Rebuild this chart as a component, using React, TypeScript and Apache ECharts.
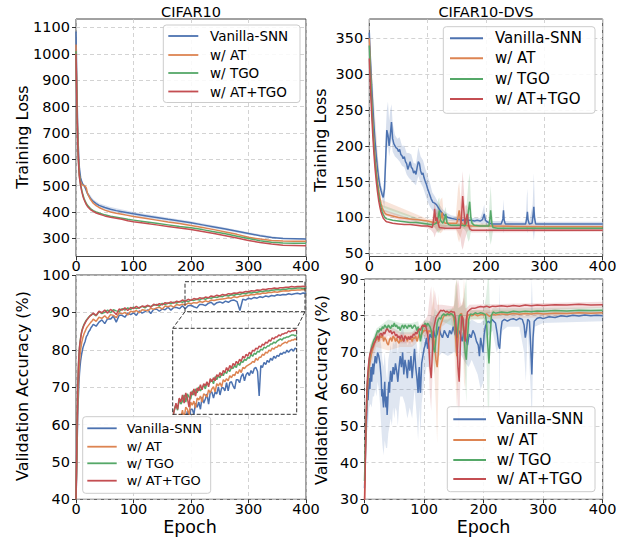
import React, { useEffect, useRef } from "react";
import * as echarts from "echarts";

const COLORS = ["#4C72B0", "#DD8452", "#55A868", "#C44E52"];
const NAMES = ["Vanilla-SNN", "w/ AT", "w/ TGO", "w/ AT+TGO"];
const TITLES = ["CIFAR10", "CIFAR10-DVS"];
const LOSS_TICKS = [300, 400, 500, 600, 700, 800, 900, 1000, 1100];
const DVS_LOSS_TICKS = [50, 100, 150, 200, 250, 300, 350];

// CIFAR10 training loss
const lossEpochs = [0, 1, 2, 3, 4, 5, 6, 8, 10, 12, 14, 16, 18, 20, 25, 30, 35, 40, 50, 60, 70, 80, 90, 100, 120, 140, 160, 180, 200, 220, 240, 260, 280, 300, 320, 340, 360, 380, 400];
const lossVanilla = [1085, 950, 820, 720, 650, 600, 565, 530, 515, 505, 500, 492, 480, 470, 452, 440, 432, 425, 417, 410, 405, 401, 397, 393, 386, 379, 372, 366, 359, 351, 343, 335, 327, 318, 310, 303, 299, 298, 297];
const lossAT = [1035, 900, 780, 690, 620, 570, 540, 515, 505, 502, 500, 498, 490, 470, 448, 433, 424, 417, 407, 400, 395, 391, 387, 383, 376, 369, 362, 356, 349, 341, 333, 324, 315, 304, 297, 292, 290, 289, 289];
const lossTGO = [1010, 880, 760, 670, 610, 567, 537, 505, 483, 465, 451, 441, 432, 425, 413, 405, 400, 396, 389, 384, 380, 376, 372, 369, 363, 357, 351, 345, 340, 333, 325, 317, 308, 299, 291, 285, 282, 281, 281];
const lossATTGO = [1000, 870, 750, 660, 600, 560, 530, 500, 478, 460, 447, 437, 428, 421, 409, 402, 396, 392, 385, 380, 376, 372, 367, 363, 357, 351, 345, 339, 333, 326, 318, 310, 301, 292, 284, 278, 274, 273, 272];
// shaded spread [epoch, low, high]
const lossVanillaBand = [[14,494,506],[20,462,478],[30,432,448],[40,417,433],[60,401,419],[80,393,409],[100,386,400],[150,368,382],[200,353,365],[250,333,345],[300,313,323],[350,299,305],[400,295,299]];

// CIFAR10-DVS training loss [epoch, loss]
const dvsLossVanilla = [[0,358],[2,320],[4,285],[6,255],[8,228],[10,205],[12,185],[14,168],[16,155],[18,145],[20,138],[22,132],[24,128],[26,140],[28,180],[30,222],[32,215],[34,200],[36,215],[38,233],[40,210],[42,203],[44,200],[46,197],[48,196],[50,192],[52,195],[54,188],[56,186],[58,182],[60,185],[62,178],[64,175],[66,167],[68,172],[70,178],[72,170],[74,168],[76,162],[78,165],[80,160],[82,170],[84,178],[86,175],[88,165],[90,160],[92,162],[94,155],[96,150],[98,146],[100,140],[103,133],[106,126],[109,121],[112,120],[115,118],[118,114],[121,110],[124,107],[127,104],[130,102],[135,100],[140,99],[145,98],[150,97],[155,97],[160,96],[165,97],[170,96],[175,96],[180,95],[185,96],[190,95],[194,97],[197,105],[199,96],[202,94],[206,92],[210,91],[215,91],[220,91],[226,91],[229,98],[230,110],[231,97],[233,91],[240,91],[250,91],[260,91],[268,91],[270,100],[271,108],[272,97],[274,91],[279,92],[281,106],[282,115],[283,100],[285,91],[300,91],[320,91],[340,91],[360,91],[380,91],[400,91]];
const dvsLossAT = [[0,350],[2,305],[4,265],[6,232],[8,205],[10,183],[12,165],[14,150],[16,138],[18,128],[20,120],[22,114],[24,110],[26,107],[28,105],[30,104],[35,103],[40,102],[50,100],[60,99],[70,98],[80,97],[90,96],[100,95],[105,94],[110,93],[115,93],[118,92],[120,93],[123,100],[125,107],[127,95],[130,92],[140,92],[150,92],[152,100],[154,110],[156,98],[158,92],[162,90],[166,89],[170,88],[180,88],[200,88],[250,87.5],[300,87],[400,87]];
const dvsLossTGO = [[0,340],[2,298],[4,260],[6,228],[8,200],[10,178],[12,160],[14,145],[16,132],[18,122],[20,114],[22,108],[24,104],[26,101],[28,99],[30,98],[35,97],[40,96],[50,95],[60,94],[70,93],[80,93],[90,92],[100,91],[105,90],[110,90],[115,92],[118,100],[120,110],[122,96],[126,92],[129,98],[131,105],[133,93],[136,90],[140,89],[150,89],[160,89],[164,88],[168,95],[170,110],[172,122],[174,100],[176,92],[180,89],[190,88],[200,88],[205,88],[207,100],[208,110],[210,92],[212,86],[220,85],[300,85],[400,85]];
const dvsLossATTGO = [[0,322],[2,280],[4,245],[6,214],[8,188],[10,167],[12,150],[14,136],[16,124],[18,115],[20,108],[22,103],[24,99],[26,97],[28,95],[30,94],[35,93],[40,92],[50,91],[60,90],[70,90],[80,89],[90,88],[100,88],[105,87],[108,86],[110,95],[112,112],[114,95],[116,100],[118,92],[120,86],[130,85],[140,85],[150,85],[156,85],[158,100],[160,130],[162,110],[164,90],[166,98],[168,105],[170,90],[172,84],[176,82],[200,82],[300,82],[400,82]];
const dvsLossVanillaBand = [[0,352,362],[10,198,212],[20,132,145],[22,126,140],[24,120,136],[26,115,160],[28,150,215],[30,195,250],[32,200,262],[34,185,235],[36,195,250],[38,210,258],[40,192,232],[44,185,215],[48,182,210],[52,178,212],[56,172,200],[60,170,200],[64,160,190],[68,155,190],[72,152,188],[76,148,176],[80,145,175],[84,158,198],[88,148,185],[92,142,180],[96,132,168],[100,122,158],[104,115,148],[108,110,135],[112,106,130],[116,104,124],[120,100,118],[125,98,112],[130,96,108],[140,95,103],[160,93,100],[190,92,99],[194,90,108],[197,92,118],[199,90,100],[205,89,95],[228,88,95],[230,78,125],[232,88,95],[268,88,94],[270,82,130],[271,78,140],[272,86,105],[274,88,94],[280,82,118],[282,68,162],[284,84,108],[286,88,94],[400,88,94]];
const dvsLossATBand = [[0,345,355],[20,115,125],[100,92,98],[110,88,98],[118,80,110],[122,78,125],[125,80,128],[128,86,100],[135,88,96],[148,86,98],[152,70,140],[154,65,150],[156,72,130],[160,84,98],[170,85,92],[400,85,89]];
const dvsLossTGOBand = [[0,335,345],[20,110,118],[100,88,94],[112,86,96],[116,80,112],[118,78,125],[120,80,128],[122,82,110],[126,86,98],[129,82,110],[131,85,115],[133,86,100],[136,86,93],[160,86,92],[166,80,110],[168,72,130],[170,66,150],[172,70,162],[174,80,125],[176,86,98],[180,86,91],[204,86,91],[206,72,120],[208,62,145],[210,70,115],[212,82,90],[220,83,87],[400,83,87]];
const dvsLossATTGOBand = [[0,315,328],[20,104,112],[100,85,91],[106,82,90],[110,78,108],[112,72,125],[114,78,110],[116,80,112],[118,82,100],[122,82,90],[150,82,88],[156,72,110],[158,60,140],[160,55,165],[162,62,140],[164,70,115],[166,75,118],[168,80,115],[170,82,98],[175,79,85],[400,80,84]];

// CIFAR10 validation accuracy
const accEpochs = [0, 1, 2, 3, 4, 5, 6, 7, 8, 9, 10, 12, 14, 16, 18, 20, 22, 24, 26, 28, 30, 35, 40, 45, 50, 55, 60, 65, 70, 75, 80, 85, 90, 95, 100, 105, 110, 115, 120, 125, 130, 135, 140, 145, 150, 155, 160, 165, 170, 175, 180, 185, 190, 195, 200, 205, 210, 215, 220, 225, 230, 235, 240, 245, 250, 255, 260, 265, 270, 275, 280, 285, 290, 295, 300, 305, 310, 315, 320, 325, 330, 335, 340, 345, 350, 355, 360, 365, 370, 375, 380, 385, 390, 395, 400];
const accVanilla = [40, 46, 55, 62, 67, 71, 73.5, 75.5, 77, 78, 79, 80.5, 81.5, 82.3, 83.5, 84, 84.8, 85.2, 85.9, 86.3,
  86.8, 86.3, 87.4, 88.0, 87.0, 88.3, 88.2, 89.0, 87.4, 89.2, 89.2, 88.7, 89.8, 89.4, 89.9, 89.2, 90.4, 89.8, 90.2, 90.7, 89.7, 90.8, 90.9, 90.3, 90.9, 90.7, 91.4, 90.6, 91.3, 91.3, 91.0, 91.8, 91.0, 91.8, 91.9, 91.5, 91.2, 92.1, 92.1, 91.8, 92.4, 92.7, 92.0, 92.6, 92.8, 92.5, 93.0, 92.7, 93.2, 93.3, 92.9, 90.5, 93.5, 93.3, 93.8, 93.6, 94.0, 93.8, 94.2, 94.0, 94.4, 94.2, 94.5, 94.4, 94.7, 94.6, 94.8, 94.7, 95.0, 94.8, 95.0, 95.1, 94.9, 95.2, 95.1];
const accAT = [40, 47, 57, 65, 70, 74, 76.5, 78.5, 80, 81, 82, 83.3, 84.3, 85, 85.7, 86.2, 86.6, 87, 87.4, 87.7,
  88.2, 87.6, 88.7, 88.4, 89.1, 88.3, 89.4, 89.2, 88.6, 89.9, 89.6, 90.0, 89.3, 90.3, 90.1, 90.5, 89.9, 90.7, 90.6, 90.4, 91.1, 90.8, 91.2, 91.4, 90.9, 91.7, 91.5, 91.8, 91.4, 92.1, 91.9, 92.2, 92.0, 92.5, 92.3, 92.6, 92.5, 92.9, 92.7, 93.1, 92.8, 93.3, 93.2, 93.4, 93.5, 93.6, 93.7, 93.9, 93.8, 94.2, 94.0, 94.3, 94.3, 94.6, 94.5, 94.8, 94.7, 95.0, 94.9, 95.2, 95.1, 95.3, 95.3, 95.5, 95.4, 95.6, 95.7, 95.8, 95.7, 95.9, 95.9, 96.0, 96.0, 96.1, 96.0];
const accTGO = [40, 49, 61, 69, 74.5, 78, 80.5, 82, 83.2, 84.2, 85, 86, 86.8, 87.4, 87.9, 88.3, 88.7, 89, 89.3, 89.5,
  89.6, 89.1, 90.2, 89.7, 90.0, 90.6, 89.9, 90.7, 90.4, 90.2, 91.0, 90.6, 91.2, 90.8, 91.4, 91.0, 91.3, 91.6, 91.2, 91.8, 91.6, 91.9, 92.1, 91.7, 92.4, 92.1, 92.5, 92.3, 92.7, 92.5, 92.9, 92.7, 93.1, 92.9, 93.3, 93.2, 93.5, 93.3, 93.8, 93.5, 93.9, 93.8, 94.1, 94.0, 94.3, 94.2, 94.6, 94.4, 94.7, 94.6, 94.9, 94.8, 95.1, 95.0, 95.3, 95.2, 95.4, 95.4, 95.6, 95.6, 95.8, 95.7, 95.9, 96.0, 96.1, 96.0, 96.2, 96.2, 96.3, 96.3, 96.4, 96.5, 96.5, 96.4, 96.5];
const accATTGO = [40, 50, 62, 70, 75, 78.5, 80.5, 82, 83, 84, 84.8, 85.8, 86.6, 87.2, 87.8, 88.2, 88.6, 89, 89.2, 89.5,
  89.8, 89.2, 90.3, 89.9, 90.6, 89.8, 90.8, 90.3, 89.4, 90.9, 90.6, 91.2, 90.5, 91.3, 91.0, 91.6, 91.1, 91.7, 91.5, 91.9, 91.4, 92.2, 91.9, 92.3, 92.0, 92.6, 92.4, 92.8, 92.5, 93.0, 92.8, 93.3, 93.0, 93.5, 93.2, 93.7, 93.5, 93.9, 93.7, 94.1, 93.9, 94.4, 94.2, 94.6, 94.4, 94.8, 94.6, 95.0, 94.9, 95.2, 95.1, 95.4, 95.3, 95.6, 95.5, 95.8, 95.7, 96.0, 95.9, 96.2, 96.1, 96.3, 96.3, 96.5, 96.4, 96.6, 96.6, 96.7, 96.7, 96.9, 96.8, 96.9, 96.9, 97.0, 96.9];

// CIFAR10-DVS validation accuracy [epoch, acc]
const dvsAccVanilla = [[0,33],[1,38],[2,45],[3,50],[4,54],[5,58],[6,57],[7,61],[8,63],[9,60],[10,64],[11,66],[12,62],[13,65],[14,67],[15,64],[16,66],[18,69],[20,67],[22,70],[24,69],[26,67],[28,63],[29,58],[30,60],[31,57],[32,55],[33,59],[34,62],[35,57],[36,55],[37,58],[38,53],[39,56],[40,60],[41,62],[42,59],[43,63],[44,65],[46,62],[48,66],[50,64],[52,67],[54,65],[56,62],[58,66],[60,69],[62,66],[64,70],[66,64],[68,68],[70,66],[72,63],[74,68],[76,65],[78,69],[80,63],[82,67],[84,71],[86,66],[88,63],[90,59],[91,64],[92,66],[93,60],[94,59],[95,63],[96,67],[98,69],[100,71],[102,72],[104,74],[106,71],[108,73],[110,75],[113,74],[116,76],[119,74],[122,75],[125,77],[128,75],[131,74],[134,76],[137,75],[140,74],[143,76],[146,75],[149,77],[152,75],[155,74],[158,76],[161,75],[164,73],[167,76],[170,74],[173,72],[176,75],[179,74],[182,76],[185,75],[188,73],[191,72],[193,69],[195,74],[197,72],[199,70],[201,75],[203,77],[205,78],[208,78.5],[211,78],[214,79],[217,78.5],[220,78],[223,75],[225,72],[227,71],[229,76],[231,78.5],[235,79],[240,78.5],[245,79],[250,79.2],[255,78.8],[260,79.3],[265,79],[268,77.5],[270,74],[272,76],[274,79],[277,78.5],[279,72],[281,64],[283,74],[285,78.5],[290,79.3],[295,79.5],[300,79.2],[310,79.7],[320,79.5],[330,80],[340,79.8],[350,80.1],[360,79.9],[370,80.2],[380,80],[390,80.1],[400,80]];
const dvsAccAT = [[0,30],[1,38],[2,46],[3,52],[4,57],[5,60],[6,62],[7,64],[8,66],[9,67],[10,68],[12,70],[14,71],[16,72],[18,73],[20,73.5],[22,74],[24,73],[26,74.5],[28,74],[30,75],[32,73],[34,74],[36,73.5],[38,72.5],[40,72],[42,73.5],[44,74],[46,73],[48,74.5],[50,74],[52,73],[54,74],[56,73],[58,72.5],[60,73.5],[62,73],[64,74],[66,73],[68,74.5],[70,74],[72,73],[74,74.3],[76,73.5],[78,74],[80,73],[82,74],[84,73.8],[86,74.5],[88,73],[90,74],[92,75],[94,74],[96,75],[98,75.5],[100,76],[102,76],[104,76],[106,75],[108,76],[110,75.6],[112,76],[114,75],[116,74],[118,72],[120,68],[122,66],[124,70],[126,76],[128,77.5],[130,78.5],[132,79.5],[134,80],[136,80.3],[138,80],[140,80.6],[143,80.3],[146,80.6],[149,80],[151,78],[153,74],[155,69],[157,73],[159,79],[161,80.5],[163,80.6],[165,79],[167,75],[169,73],[171,77],[173,80],[176,80.3],[180,80],[185,80.4],[190,80],[195,80.3],[200,80.2],[205,80.5],[210,79.8],[215,80.4],[220,80.2],[230,80.5],[240,80.3],[250,80.6],[260,80.4],[270,80.6],[280,80.5],[290,80.7],[300,80.5],[320,80.7],[340,80.6],[360,80.8],[380,80.7],[400,80.8]];
const dvsAccTGO = [[0,35],[1,42],[2,48],[3,54],[4,59],[5,62],[6,64],[7,66],[8,68],[9,69],[10,70],[12,71.5],[14,72.5],[16,73.5],[18,74],[20,75],[22,76],[24,75.5],[26,76.5],[28,76],[30,77],[32,76.5],[34,77.5],[36,77],[38,76.5],[40,77.5],[42,77],[44,76.5],[46,77.5],[48,77],[50,78],[52,77],[54,77.5],[56,76.5],[58,77],[60,76],[62,77],[64,77.5],[66,76.5],[68,77.5],[70,77],[72,76.5],[74,77.5],[76,77],[78,77.5],[80,76.5],[82,77],[84,77.5],[86,77],[88,76],[90,77],[92,75.5],[94,73],[96,75],[98,77],[100,77.5],[102,78],[104,77],[106,78],[108,77.5],[110,77],[112,76],[114,74],[116,71],[118,70],[120,74],[122,78],[124,79],[126,79.5],[128,79],[130,80],[133,80.5],[136,80],[139,80.5],[142,80.2],[145,80.6],[148,80.3],[151,79.5],[153,76],[155,74],[157,77],[159,80],[162,80.3],[165,79],[167,75],[169,70],[171,68],[173,74],[175,79],[178,80.5],[182,80.3],[186,80.8],[190,80.5],[195,80.8],[200,80.6],[203,80.3],[205,78],[207,72],[209,67],[211,74],[213,80],[216,81],[220,80.7],[230,81],[240,80.8],[250,81.2],[260,81],[270,81.2],[280,81.1],[290,81.3],[300,81.2],[320,81.4],[340,81.3],[360,81.5],[380,81.4],[400,81.5]];
const dvsAccATTGO = [[0,28],[1,36],[2,46],[3,54],[4,60],[5,63],[6,65],[7,67],[8,68.5],[9,69.5],[10,70],[12,71],[14,71.5],[16,72.5],[18,73],[20,74],[22,74.5],[24,73.5],[26,75],[28,75.2],[30,74.5],[32,75.5],[34,75],[36,76],[38,76.5],[40,76],[42,75.5],[44,76],[46,75],[48,75.5],[50,75.6],[52,74.5],[54,75],[56,74],[58,74.5],[60,73.5],[62,74.7],[64,74],[66,73],[68,74.5],[70,74],[72,73.5],[74,74.3],[76,73.5],[78,74.5],[80,74],[82,75],[84,74.7],[86,75.5],[88,75],[90,76],[92,76.5],[94,76],[96,77],[98,77.5],[100,77],[102,77.5],[104,76.5],[106,75],[108,72],[110,66],[112,63],[114,70],[116,76.5],[118,78],[120,79.5],[122,80],[124,80.5],[126,81],[128,81.5],[130,81.3],[133,81.5],[136,81],[139,81.2],[142,80.8],[145,81.2],[148,81],[151,81],[153,79],[155,74],[157,66],[159,62],[161,72],[163,80],[165,79.5],[167,76],[169,73],[171,79],[173,81],[176,81.5],[180,82],[185,82],[190,82.3],[195,82.5],[200,82.4],[205,82.6],[210,82.3],[215,82.6],[220,82.5],[230,82.7],[240,82.5],[250,82.8],[260,82.6],[270,82.9],[280,82.7],[290,82.9],[300,82.8],[320,83],[340,82.9],[360,83.1],[380,82.9],[400,83]];
const dvsAccVanillaBand = [[0,30,36],[2,40,50],[4,48,58],[6,50,62],[8,55,68],[10,56,70],[12,55,70],[14,58,72],[16,58,73],[18,60,75],[20,58,74],[22,62,76],[24,60,76],[26,56,74],[28,50,72],[30,45,68],[32,42,66],[34,46,70],[36,44,65],[38,44,62],[40,48,68],[42,50,70],[44,52,72],[46,50,70],[48,55,73],[50,52,72],[52,55,74],[54,54,73],[56,50,70],[58,55,73],[60,58,75],[64,58,77],[68,56,74],[72,52,72],[76,55,73],[80,52,72],[84,60,76],[88,52,72],[90,46,68],[92,55,72],[94,48,68],[96,56,74],[100,62,76],[104,66,78],[108,66,78],[112,68,80],[116,70,80],[120,68,79],[130,70,79],[140,69,79],[150,70,80],[160,70,80],[170,67,79],[175,66,78],[180,68,79],[190,64,78],[195,60,78],[200,62,79],[205,74,81],[215,76,81],[222,70,80],[226,72,80],[227,55,89],[228,74,80],[232,76,81],[240,77,81],[260,77,81],[268,70,80],[271,62,80],[274,76,81],[279,60,80],[281,50,90],[283,68,80],[286,77,81],[300,78,81],[400,78.5,81.5]];
const dvsAccATBand = [[0,28,33],[5,57,63],[10,66,70],[20,71.5,75.5],[40,70.5,74],[60,71.5,75],[80,71.5,75],[100,74.5,77.5],[110,73.5,78],[114,71,84],[116,68,88],[118,62,80],[120,55,76],[122,45,78],[124,60,86],[126,72,80],[130,77,80.5],[145,79,81.5],[150,75,83],[152,66,88],[155,55,90],[157,64,85],[160,78,82],[165,74,84],[167,62,90],[169,60,86],[171,72,81],[175,79,81.5],[400,80,81.5]];
const dvsAccTGOBand = [[0,32,37],[5,59,65],[10,68,72],[20,73.5,76.5],[40,76,79],[60,75,78],[80,75,78],[90,75.5,78.5],[94,70,76],[100,76,79],[110,75.5,78.5],[114,70,78],[118,64,82],[122,74,81],[130,78.5,81.5],[150,77,82],[153,70,88],[155,68,90],[157,73,82],[165,75,83],[169,63,88],[171,56,90],[173,70,80],[178,79,81.5],[200,79,81.5],[204,72,85],[207,55,90],[209,52,90],[211,70,80],[215,80,82],[400,80.7,82.3]];
const dvsAccATTGOBand = [[0,26,30],[5,60,66],[10,68,72],[20,72.5,75.5],[40,74.5,77.5],[60,72.5,75.5],[80,72.5,75.5],[100,75.5,78.5],[106,72,80],[108,65,83],[110,58,86],[112,54,88],[114,63,82],[118,74,87],[122,78,83],[130,80,83],[150,79.5,82.5],[153,73,85],[155,62,88],[157,52,90],[159,48,88],[161,63,84],[163,78,82.5],[167,70,85],[169,66,82],[171,76,82],[176,80.5,83],[400,82.2,83.8]];

const FONT = "DejaVu Sans";

function zip(xs: number[], ys: number[]) {
  return xs.map((x, i) => [x, ys[i]]);
}

function xAxisCfg(gridIndex: number) {
  return {
    type: "value", gridIndex, min: 0, max: 400, interval: 100,
    axisLine: { show: false },
    axisTick: { show: true, length: 4, lineStyle: { color: "#333", width: 1 } },
    axisLabel: { fontSize: 14.5, color: "#000", margin: 2, fontFamily: FONT, formatter: (v: number) => String(v) },
    splitLine: { show: true, lineStyle: { color: "#c8c8c8", type: [4, 3], width: 0.8 } },
  };
}

function yAxisCfg(gridIndex: number, min: number, max: number, ticks: number[] | null, interval?: number) {
  const base: any = {
    type: "value", gridIndex, min, max,
    axisLine: { show: false },
    axisTick: { show: true, length: 4, lineStyle: { color: "#333", width: 1 } },
    axisLabel: { fontSize: 14.5, color: "#000", margin: 6, fontFamily: FONT, formatter: (v: number) => String(v) },
    splitLine: { show: true, lineStyle: { color: "#c8c8c8", type: [4, 3], width: 0.8 } },
  };
  if (ticks) {
    base.axisTick.customValues = ticks;
    base.axisLabel.customValues = ticks;
  } else if (interval) {
    base.interval = interval;
  }
  return base;
}

function legendGraphics(x: number, y: number, w: number, h: number, lx0: number, lx1: number, tx: number, rows: number[], fs: number, lw: number) {
  const els: any[] = [
    { type: "rect", z: 20, shape: { x, y, width: w, height: h, r: 3 }, style: { fill: "rgba(255,255,255,0.85)", stroke: "#cccccc", lineWidth: 1 } },
  ];
  NAMES.forEach((n, i) => {
    els.push({ type: "line", z: 21, shape: { x1: lx0, y1: rows[i], x2: lx1, y2: rows[i] }, style: { stroke: COLORS[i], lineWidth: lw } });
    els.push({ type: "text", z: 21, x: tx, y: rows[i], style: { text: n, fontSize: fs, fontFamily: FONT, fill: "#000", verticalAlign: "middle", align: "left" } });
  });
  return els;
}

function vText(text: string, x: number, y: number, fs: number) {
  return { type: "text", z: 21, x, y, rotation: Math.PI / 2, style: { text, fontSize: fs, fontFamily: FONT, fill: "#000", align: "center", verticalAlign: "middle" } };
}
function hText(text: string, x: number, y: number, fs: number) {
  return { type: "text", z: 21, x, y, style: { text, fontSize: fs, fontFamily: FONT, fill: "#000", align: "center", verticalAlign: "middle" } };
}

export default function App() {
  const ref = useRef<HTMLDivElement>(null);
  useEffect(() => {
    if (!ref.current) return;
    const chart = echarts.init(ref.current, null, { renderer: "svg" });

    const lossSets = [lossVanilla, lossAT, lossTGO, lossATTGO];
    const dvsLossSets = [dvsLossVanilla, dvsLossAT, dvsLossTGO, dvsLossATTGO];
    const accSets = [accVanilla, accAT, accTGO, accATTGO];
    const dvsAccSets = [dvsAccVanilla, dvsAccAT, dvsAccTGO, dvsAccATTGO];
    const dvsLossBands = [dvsLossVanillaBand, dvsLossATBand, dvsLossTGOBand, dvsLossATTGOBand];
    const dvsAccBands = [dvsAccVanillaBand, dvsAccATBand, dvsAccTGOBand, dvsAccATTGOBand];

    const series: any[] = [];
    const mk = (gi: number, data: any[], i: number, z = 2) => ({
      type: "line", xAxisIndex: gi, yAxisIndex: gi, data, showSymbol: false, symbol: "none",
      lineStyle: { color: COLORS[i], width: 1.5 }, itemStyle: { color: COLORS[i] }, z, silent: true, clip: true,
    });
    const band = (gi: number, b: number[][], i: number, op: number) => {
      series.push({
        type: "custom", xAxisIndex: gi, yAxisIndex: gi, z: 1, silent: true, clip: true,
        encode: { x: 0, y: [1, 2] },
        data: b,
        renderItem: (params: any, api: any) => {
          if (params.dataIndex !== 0) return null;
          const top = b.map((p) => api.coord([p[0], p[2]]));
          const bot = b.map((p) => api.coord([p[0], p[1]])).reverse();
          return {
            type: "polygon",
            shape: { points: top.concat(bot) },
            style: { fill: COLORS[i], opacity: op },
            silent: true,
          };
        },
      });
    };
    band(0, lossVanillaBand, 0, 0.22);
    dvsLossBands.forEach((b, i) => band(1, b, i, 0.22));
    dvsAccBands.forEach((b, i) => band(3, b, i, 0.18));

    lossSets.forEach((s, i) => series.push(mk(0, zip(lossEpochs, s), i)));
    dvsLossSets.forEach((s, i) => series.push(mk(1, s, i)));
    accSets.forEach((s, i) => series.push(mk(2, zip(accEpochs, s), i)));
    dvsAccSets.forEach((s, i) => series.push(mk(3, s, i)));
    accSets.forEach((s, i) => series.push(mk(4, zip(accEpochs, s), i, 30)));

    const gridBase = { show: true, borderColor: "#444", borderWidth: 1, backgroundColor: "transparent", containLabel: false };

    const graphic: any[] = [
      hText(TITLES[0], 191, 11.5, 14.5),
      hText(TITLES[1], 486, 11.5, 14.5),
      vText("Training Loss", 22, 137, 16),
      vText("Training Loss", 320, 140, 16),
      vText("Validation Accuracy (%)", 22, 386, 16),
      vText("Validation Accuracy (%)", 321.5, 390, 16),
      hText("Epoch", 190, 526.5, 17.5),
      hText("Epoch", 483.5, 526.5, 17.5),
      { type: "rect", z: 25, shape: { x: 172.7, y: 328.3, width: 124, height: 86 }, style: { fill: "#fff" } },
      { type: "rect", z: 40, shape: { x: 172.7, y: 328.3, width: 124, height: 86 }, style: { fill: "none", stroke: "#333", lineWidth: 1, lineDash: [4, 2] } },
      { type: "rect", z: 40, shape: { x: 185, y: 281.7, width: 120, height: 30 }, style: { fill: "none", stroke: "#333", lineWidth: 1, lineDash: [4, 2] } },
      { type: "line", z: 40, shape: { x1: 185, y1: 311.7, x2: 172.7, y2: 328.3 }, style: { stroke: "#333", lineWidth: 1, lineDash: [4, 2] } },
      { type: "line", z: 40, shape: { x1: 305, y1: 311.7, x2: 296.7, y2: 328.3 }, style: { stroke: "#333", lineWidth: 1, lineDash: [4, 2] } },
      ...legendGraphics(163.3, 25, 136.7, 77.5, 168.3, 198.3, 210, [36, 55, 73, 91.5], 13.5, 1.8),
      ...legendGraphics(443.3, 26.7, 151.7, 86.6, 450, 483, 495, [38.3, 58.3, 79, 99], 15, 2),
      ...legendGraphics(82.7, 416.7, 128, 76.6, 87.3, 116.7, 126.7, [428.3, 446.7, 463.3, 480.7], 13, 1.8),
      ...legendGraphics(447.3, 406.7, 147.7, 85, 453.3, 486, 496.7, [419.3, 440, 460, 479], 15, 2),
    ];

    chart.setOption({
      animation: false,
      backgroundColor: "#fff",
      textStyle: { fontFamily: FONT },
      grid: [
        { ...gridBase, left: 76, top: 19, width: 230, height: 237.5 },
        { ...gridBase, left: 369.3, top: 19, width: 233.4, height: 237.5 },
        { ...gridBase, left: 76, top: 275, width: 230, height: 224.3 },
        { ...gridBase, left: 364.5, top: 279, width: 238.2, height: 220.3 },
        { show: false, left: 172.7, top: 328.3, width: 124, height: 86 },
      ],
      xAxis: [
        xAxisCfg(0), xAxisCfg(1), xAxisCfg(2), xAxisCfg(3),
        { type: "value", gridIndex: 4, min: 20, max: 400, show: false },
      ],
      yAxis: [
        yAxisCfg(0, 231, 1132, LOSS_TICKS),
        yAxisCfg(1, 45.5, 377, DVS_LOSS_TICKS),
        yAxisCfg(2, 40, 100, null, 10),
        yAxisCfg(3, 30, 90, null, 10),
        { type: "value", gridIndex: 4, min: 88.7, max: 97.15, show: false },
      ],
      series,
      graphic,
    });
    return () => chart.dispose();
  }, []);
  return <div ref={ref} style={{ position: "absolute", left: 0, top: 0, width: 635, height: 538 }} />;
}
